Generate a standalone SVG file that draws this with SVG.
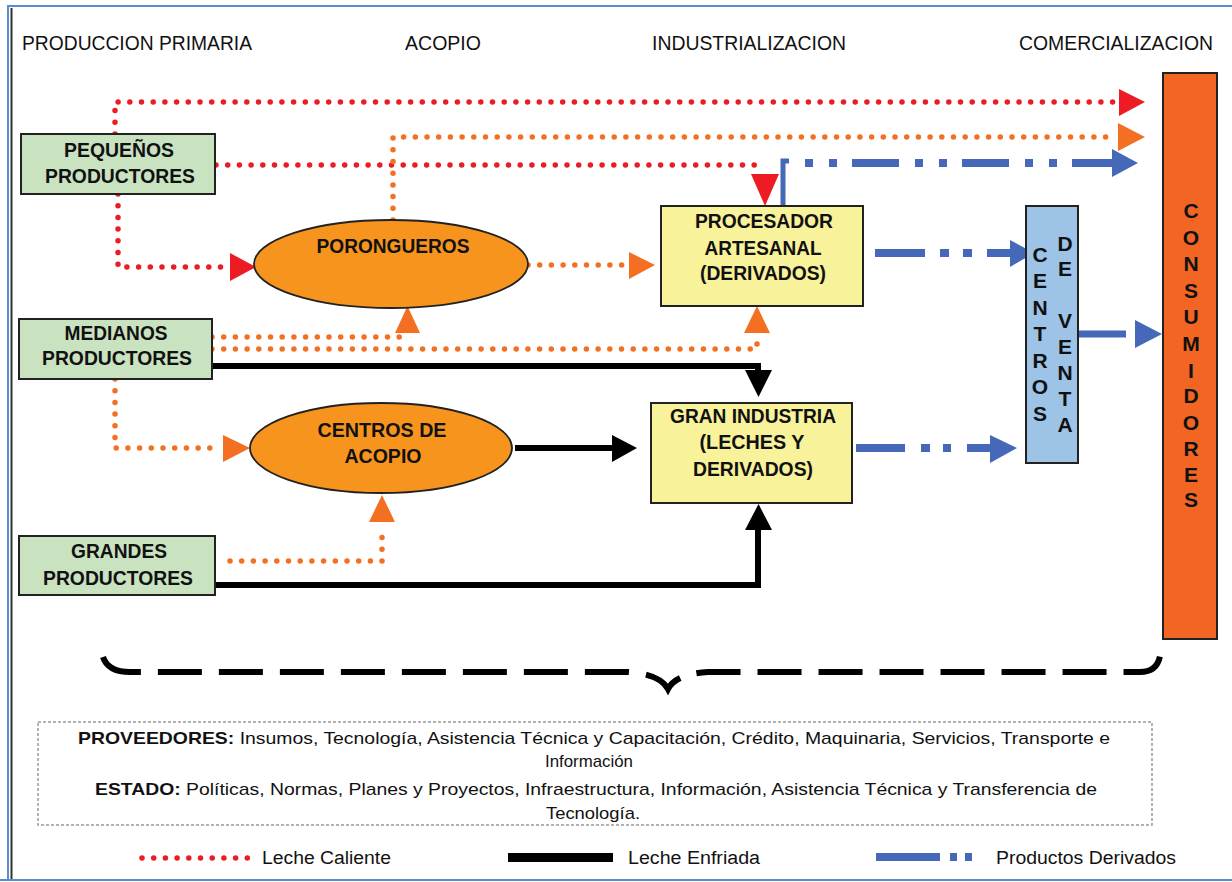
<svg xmlns="http://www.w3.org/2000/svg" width="1232" height="882" viewBox="0 0 1232 882">
  <style>
    text { font-family: "Liberation Sans", Arial, sans-serif; fill: #111; }
    .hdr { font-size: 20px; }
    .lbl { font-size: 20px; font-weight: bold; text-anchor: middle; }
    .vert { font-size: 21px; font-weight: bold; text-anchor: middle; }
    .note { font-size: 17px; text-anchor: middle; }
    .leg { font-size: 18px; }
    .prod { fill: #c9e3c1; stroke: #222; stroke-width: 2; }
    .acop { fill: #f7941d; stroke: #222; stroke-width: 1.8; }
    .ind { fill: #f8f29a; stroke: #222; stroke-width: 2; }
    .venta { fill: #9dc3e6; stroke: #222; stroke-width: 2; }
    .cons { fill: #f26522; stroke: #222; stroke-width: 2; }
    .hot { fill: none; stroke: #ed1c24; stroke-width: 5.5; stroke-linecap: round; stroke-linejoin: round; stroke-dasharray: 0 11.7; }
    .hot2 { fill: none; stroke: #f36f21; stroke-width: 5.5; stroke-linecap: round; stroke-linejoin: round; stroke-dasharray: 0 11.7; }
    .cold { fill: none; stroke: #000; stroke-width: 6; }
    .deriv { fill: none; stroke: #4668b8; stroke-width: 8; }
    .ah-hot { fill: #ed1c24; }
    .ah-hot2 { fill: #f36f21; }
    .ah-cold { fill: #000; }
    .ah-deriv { fill: #4668b8; }
  </style>

  <!-- page frame -->
  <g id="frame" fill="none">
    <path d="M8,880 V6 H1232" stroke="#5b8ccf" stroke-width="2"/>
    <line x1="0" y1="880" x2="1232" y2="880" stroke="#5b8ccf" stroke-width="2"/>
    <line x1="11.5" y1="8" x2="11.5" y2="879" stroke="#333" stroke-width="2"/>
  </g>

  <!-- stage headings -->
  <g id="headings" class="hdr">
    <text class="hdr" x="22" y="50" textLength="230" lengthAdjust="spacingAndGlyphs">PRODUCCION PRIMARIA</text>
    <text class="hdr" x="405" y="50" textLength="76" lengthAdjust="spacingAndGlyphs">ACOPIO</text>
    <text class="hdr" x="652" y="50" textLength="194" lengthAdjust="spacingAndGlyphs">INDUSTRIALIZACION</text>
    <text class="hdr" x="1019" y="50" textLength="194" lengthAdjust="spacingAndGlyphs">COMERCIALIZACION</text>
  </g>

  <!-- connectors -->
  <g id="connectors">
    <!-- leche caliente (pequeños productores) -->
    <path class="hot" d="M115,134 V102 H1116"/>
    <polygon class="ah-hot" points="1119,89 1145,102 1119,116"/>
    <path class="hot" d="M216,165 H763"/>
    <polygon class="ah-hot" points="751,174 779,174 765,206"/>
    <path class="hot" d="M118,194 V267 H228"/>
    <polygon class="ah-hot" points="230,253 256,267 230,281"/>

    <!-- leche caliente (acopio / medianos / grandes) -->
    <path class="hot2" d="M393,220 V137 H1116"/>
    <polygon class="ah-hot2" points="1118,123 1145,137 1118,151"/>
    <path class="hot2" d="M528,265 H627"/>
    <polygon class="ah-hot2" points="629,252 655,265 629,279"/>
    <path class="hot2" d="M212,337 H407"/>
    <polygon class="ah-hot2" points="395,333 420,333 407.5,306"/>
    <path class="hot2" d="M212,349 H757 V337"/>
    <polygon class="ah-hot2" points="744,333 770,333 757,306"/>
    <path class="hot2" d="M115,379 V448 H221"/>
    <polygon class="ah-hot2" points="223,435 250,448 223,462"/>
    <path class="hot2" d="M230,561 H382 V526"/>
    <polygon class="ah-hot2" points="369,522 395,522 382,495"/>

    <!-- leche enfriada -->
    <path class="cold" d="M212,366 H758 V372"/>
    <polygon class="ah-cold" points="745,370 772,370 758.5,397"/>
    <path class="cold" d="M515,448 H613"/>
    <polygon class="ah-cold" points="612,435 637,448 612,462"/>
    <path class="cold" d="M216,585 H758 V528"/>
    <polygon class="ah-cold" points="745,530 772,530 758.5,504"/>

    <!-- productos derivados -->
    <path d="M783,206 V161 H789" fill="none" stroke="#4668b8" stroke-width="5"/>
    <path class="deriv" d="M805,163 H1112" stroke-dasharray="8 16 8 15 47 16"/>
    <polygon class="ah-deriv" points="1112,149 1138,163 1112,177"/>
    <path class="deriv" d="M875,253 H1010" stroke-dasharray="50 15 9 14 9 15"/>
    <polygon class="ah-deriv" points="1010,240 1034,253 1010,267"/>
    <path class="deriv" d="M856,448 H990" stroke-dasharray="49 16 9 13 8 16"/>
    <polygon class="ah-deriv" points="990,435 1017,448 990,463"/>
    <path d="M1078,334 H1126" fill="none" stroke="#4668b8" stroke-width="7"/>
    <polygon class="ah-deriv" points="1135,320 1162,334 1135,348"/>
  </g>

  <!-- producers -->
  <g id="pequenos">
    <rect class="prod" x="21" y="134" width="194" height="60"/>
    <text class="lbl" x="119" y="157" textLength="110" lengthAdjust="spacingAndGlyphs">PEQUEÑOS</text>
    <text class="lbl" x="120" y="183" textLength="150" lengthAdjust="spacingAndGlyphs">PRODUCTORES</text>
  </g>
  <g id="medianos">
    <rect class="prod" x="19" y="319" width="193" height="60"/>
    <text class="lbl" x="116" y="340" textLength="103" lengthAdjust="spacingAndGlyphs">MEDIANOS</text>
    <text class="lbl" x="117" y="365" textLength="150" lengthAdjust="spacingAndGlyphs">PRODUCTORES</text>
  </g>
  <g id="grandes">
    <rect class="prod" x="19" y="536" width="196" height="59"/>
    <text class="lbl" x="119" y="558" textLength="96" lengthAdjust="spacingAndGlyphs">GRANDES</text>
    <text class="lbl" x="118" y="585" textLength="150" lengthAdjust="spacingAndGlyphs">PRODUCTORES</text>
  </g>

  <!-- collection -->
  <g id="porongueros">
    <ellipse class="acop" cx="391" cy="264" rx="137" ry="44"/>
    <text class="lbl" x="393" y="253" textLength="153" lengthAdjust="spacingAndGlyphs">PORONGUEROS</text>
  </g>
  <g id="centros-acopio">
    <ellipse class="acop" cx="381" cy="448" rx="131" ry="45"/>
    <text class="lbl" x="382" y="437" textLength="129" lengthAdjust="spacingAndGlyphs">CENTROS DE</text>
    <text class="lbl" x="383" y="463" textLength="77" lengthAdjust="spacingAndGlyphs">ACOPIO</text>
  </g>

  <!-- processing -->
  <g id="procesador">
    <rect class="ind" x="661" y="206" width="202" height="100"/>
    <text class="lbl" x="764" y="228" textLength="138" lengthAdjust="spacingAndGlyphs">PROCESADOR</text>
    <text class="lbl" x="763" y="255" textLength="117" lengthAdjust="spacingAndGlyphs">ARTESANAL</text>
    <text class="lbl" x="763" y="280" textLength="126" lengthAdjust="spacingAndGlyphs">(DERIVADOS)</text>
  </g>
  <g id="gran-industria">
    <rect class="ind" x="651" y="403" width="201" height="100"/>
    <text class="lbl" x="753" y="423" textLength="166" lengthAdjust="spacingAndGlyphs">GRAN INDUSTRIA</text>
    <text class="lbl" x="752" y="449" textLength="105" lengthAdjust="spacingAndGlyphs">(LECHES Y</text>
    <text class="lbl" x="753" y="476" textLength="120" lengthAdjust="spacingAndGlyphs">DERIVADOS)</text>
  </g>

  <!-- sales -->
  <g id="centros-venta">
    <rect class="venta" x="1026" y="206" width="52" height="257"/>
    <g class="vert">
      <text class="vert" x="1040" y="262">C</text>
      <text class="vert" x="1040" y="288">E</text>
      <text class="vert" x="1040" y="315">N</text>
      <text class="vert" x="1040" y="341">T</text>
      <text class="vert" x="1040" y="368">R</text>
      <text class="vert" x="1040" y="394">O</text>
      <text class="vert" x="1040" y="421">S</text>
      <text class="vert" x="1065" y="251">D</text>
      <text class="vert" x="1065" y="276">E</text>
      <text class="vert" x="1065" y="328">V</text>
      <text class="vert" x="1065" y="354">E</text>
      <text class="vert" x="1065" y="380">N</text>
      <text class="vert" x="1065" y="406">T</text>
      <text class="vert" x="1065" y="432">A</text>
    </g>
  </g>
  <g id="consumidores">
    <rect class="cons" x="1163" y="73" width="54" height="566"/>
    <text class="vert" x="1191" y="218">C</text>
    <text class="vert" x="1191" y="245">O</text>
    <text class="vert" x="1191" y="271">N</text>
    <text class="vert" x="1191" y="298">S</text>
    <text class="vert" x="1191" y="324">U</text>
    <text class="vert" x="1191" y="351">M</text>
    <text class="vert" x="1191" y="378">I</text>
    <text class="vert" x="1191" y="403">D</text>
    <text class="vert" x="1191" y="430">O</text>
    <text class="vert" x="1191" y="456">R</text>
    <text class="vert" x="1191" y="482">E</text>
    <text class="vert" x="1191" y="507">S</text>
  </g>

  <!-- brace over the supporting actors -->
  <path id="brace" d="M103,657 Q108,672 130,672 H628 Q660,674 668,689 Q676,674 708,672 H1140 Q1157,672 1160,656" fill="none" stroke="#000" stroke-width="6" stroke-dasharray="44 17"/>

  <!-- supporting actors -->
  <g id="apoyo">
    <rect x="38" y="722" width="1114" height="103" fill="none" stroke="#999" stroke-width="1.5" stroke-dasharray="3 2"/>
    <text class="note" x="594" y="744" textLength="1032" lengthAdjust="spacingAndGlyphs"><tspan font-weight="bold">PROVEEDORES:</tspan> Insumos, Tecnología, Asistencia Técnica y Capacitación, Crédito, Maquinaria, Servicios, Transporte e</text>
    <text class="note" x="589" y="767" textLength="88" lengthAdjust="spacingAndGlyphs">Información</text>
    <text class="note" x="596" y="795" textLength="1002" lengthAdjust="spacingAndGlyphs"><tspan font-weight="bold">ESTADO:</tspan> Políticas, Normas, Planes y Proyectos, Infraestructura, Información, Asistencia Técnica y Transferencia de</text>
    <text class="note" x="593" y="819" textLength="94" lengthAdjust="spacingAndGlyphs">Tecnología.</text>
  </g>

  <!-- legend -->
  <g id="legend">
    <path class="hot" d="M142,858 H248" stroke-dasharray="0 11.2" stroke-width="5"/>
    <text class="leg" x="262" y="864" textLength="129" lengthAdjust="spacingAndGlyphs">Leche Caliente</text>
    <rect x="508" y="853" width="105" height="9" fill="#000"/>
    <text class="leg" x="628" y="864" textLength="132" lengthAdjust="spacingAndGlyphs">Leche Enfriada</text>
    <path class="deriv" d="M876,857 H972" stroke-dasharray="64 10 7 8 7 100"/>
    <text class="leg" x="996" y="864" textLength="180" lengthAdjust="spacingAndGlyphs">Productos Derivados</text>
  </g>
</svg>
